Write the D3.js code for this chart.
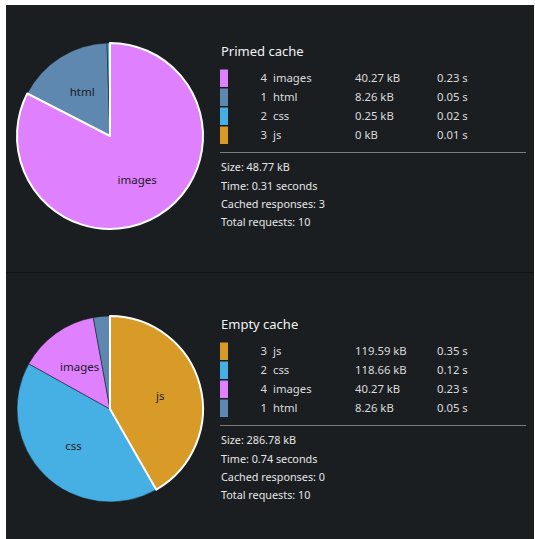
<!DOCTYPE html>
<html>
<head>
<meta charset="utf-8">
<script src="https://cdn.jsdelivr.net/npm/d3@7"></script>
<style>
  html, body { margin: 0; padding: 0; background: #ffffff; }
  svg { display: block; font-family: "Noto Sans", "Open Sans", sans-serif; }
</style>
</head>
<body>
<svg id="chart" width="535" height="539"></svg>
<script>
// Request types and their swatch colours
const categories = ["html", "css", "js", "images"];
const categoryColors = ["#5e88b0", "#46afe3", "#d99b28", "#df80ff"];

// Primed cache, per type (same order as categories)
const primedCount = [1, 2, 3, 4];
const primedSize = [8.26, 0.25, 0, 40.27];   // kB
const primedTime = [0.05, 0.02, 0.01, 0.23]; // s

// Empty cache, per type
const emptyCount = [1, 2, 3, 4];
const emptySize = [8.26, 118.66, 119.59, 40.27];
const emptyTime = [0.05, 0.12, 0.35, 0.23];

// Summary lines
const panelTitles = ["Primed cache", "Empty cache"];
const totalSize = [48.77, 286.78];
const totalTime = [0.31, 0.74];
const cachedResponses = [3, 0];
const totalRequests = [10, 10];

const color = d3.scaleOrdinal().domain(categories).range(categoryColors);

const svg = d3.select("#chart");
svg.append("rect").attr("x", 6).attr("y", 5).attr("width", 528).attr("height", 534).attr("fill", "#1a1e21");
svg.append("line").attr("x1", 6).attr("x2", 534).attr("y1", 272.5).attr("y2", 272.5)
  .attr("stroke", "#111417").attr("stroke-width", 1);

function rows(count, size, time) {
  return categories.map((c, i) => ({ type: c, count: count[i], size: size[i], time: time[i] }))
    .sort((a, b) => b.size - a.size);
}

const panels = [
  { data: rows(primedCount, primedSize, primedTime), top: 0 },
  { data: rows(emptyCount, emptySize, emptyTime), top: 273 }
];

const radius = 93;
const arc = d3.arc().innerRadius(0).outerRadius(radius);
const labelArc = d3.arc().innerRadius(radius * 0.56).outerRadius(radius * 0.56);
const pie = d3.pie().sort(null).value(d => d.size).startAngle(0).endAngle(2 * Math.PI);

panels.forEach((p, pi) => {
  const g = svg.append("g").attr("transform", `translate(0,${p.top})`);
  const total = d3.sum(p.data, d => d.size);
  const arcs = pie(p.data);

  // pie: largest slice drawn last with a white outline
  const pieG = g.append("g").attr("transform", `translate(110,136)`);
  const ordered = arcs.slice(1).concat(arcs.slice(0, 1));
  pieG.selectAll("path").data(ordered).join("path")
    .attr("d", arc)
    .attr("fill", d => color(d.data.type))
    .attr("stroke", (d, i) => i === ordered.length - 1 ? "#ffffff" : "rgba(20,23,26,0.5)")
    .attr("stroke-width", (d, i) => i === ordered.length - 1 ? 2 : 1)
    .attr("stroke-linejoin", "round");

  pieG.selectAll("text").data(arcs.filter(d => d.data.size / total > 0.05)).join("text")
    .attr("transform", d => `translate(${labelArc.centroid(d)})`)
    .attr("text-anchor", "middle")
    .attr("dy", "0.35em")
    .attr("font-size", 11.5)
    .attr("fill", "#1b1b1b")
    .text(d => d.data.type);

  // title
  g.append("text").attr("x", 221).attr("y", 56).attr("font-size", 13)
    .attr("fill", "#f2f2f2").text(panelTitles[pi]);

  // legend table
  const rowY = d3.scaleBand().domain(p.data.map(d => d.type)).range([69.5, 144]).paddingInner(0.08);
  const row = g.selectAll("g.row").data(p.data).join("g").attr("class", "row")
    .attr("transform", d => `translate(0,${rowY(d.type)})`);
  row.append("rect").attr("x", 220).attr("width", 8).attr("height", rowY.bandwidth()).attr("fill", d => color(d.type));
  const ty = rowY.bandwidth() / 2;
  const cell = (sel) => sel.attr("y", ty).attr("dy", "0.35em").attr("font-size", 11.3).attr("fill", "#dcdcdc");
  row.append("text").attr("x", 267).attr("text-anchor", "end").call(cell).text(d => d.count);
  row.append("text").attr("x", 273).call(cell).text(d => d.type);
  row.append("text").attr("x", 355).call(cell).text(d => `${d.size} kB`);
  row.append("text").attr("x", 437).call(cell).text(d => `${d.time} s`);

  g.append("line").attr("x1", 220).attr("x2", 526).attr("y1", 152.5).attr("y2", 152.5)
    .attr("stroke", "#7a7d80").attr("stroke-width", 1);

  const summary = [
    `Size: ${totalSize[pi]} kB`,
    `Time: ${totalTime[pi]} seconds`,
    `Cached responses: ${cachedResponses[pi]}`,
    `Total requests: ${totalRequests[pi]}`
  ];
  g.selectAll("text.sum").data(summary).join("text").attr("class", "sum")
    .attr("x", 221).attr("y", (d, i) => 167.5 + i * 18.3).attr("dy", "0.35em")
    .attr("font-size", 10.8).attr("fill", "#e6e6e6").text(d => d);
});
</script>
</body>
</html>
